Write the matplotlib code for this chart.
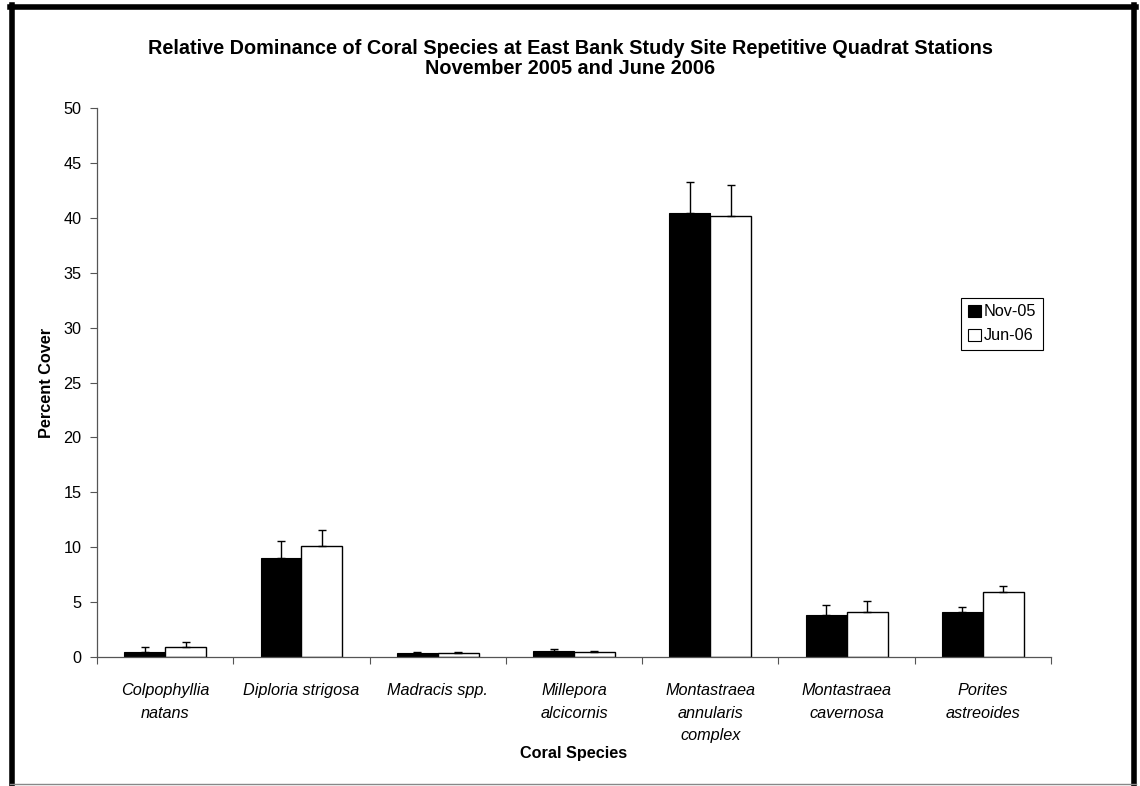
import matplotlib
matplotlib.use("Agg")
import matplotlib.pyplot as plt
import numpy as np
from matplotlib.patches import Patch
from matplotlib.lines import Line2D

plt.rcParams['font.family'] = ['Liberation Sans', 'DejaVu Sans']

species = ["Colpophyllia\nnatans", "Diploria strigosa", "Madracis spp.",
           "Millepora\nalcicornis", "Montastraea\nannularis\ncomplex",
           "Montastraea\ncavernosa", "Porites\nastreoides"]
nov05 = [0.5, 9.0, 0.4, 0.6, 40.4, 3.8, 4.1]
nov05_err = [0.4, 1.6, 0.1, 0.15, 2.9, 0.9, 0.5]
jun06 = [0.9, 10.1, 0.4, 0.5, 40.2, 4.1, 5.9]
jun06_err = [0.5, 1.5, 0.1, 0.1, 2.8, 1.0, 0.6]
series_labels = ["Nov-05", "Jun-06"]

FS = 11.7

fig = plt.figure(figsize=(11.4, 7.86), dpi=100)
ax = fig.add_axes([0.0851, 0.164, 0.8369, 0.6986])

x = np.arange(len(species))
w = 0.3
ax.bar(x - w / 2, nov05, w, color="black", edgecolor="black", linewidth=0.8, zorder=2)
ax.bar(x + w / 2, jun06, w, color="white", edgecolor="black", linewidth=1.0, zorder=2)
ax.errorbar(x - w / 2, nov05, yerr=[np.zeros(len(nov05)), nov05_err], fmt="none",
            ecolor="black", elinewidth=1.0, capsize=3, capthick=1.0, zorder=3)
ax.errorbar(x + w / 2, jun06, yerr=[np.zeros(len(jun06)), jun06_err], fmt="none",
            ecolor="black", elinewidth=1.0, capsize=3, capthick=1.0, zorder=3)

ax.set_xlim(-0.5, len(species) - 0.5)
ax.set_ylim(0, 50)
ax.set_yticks(np.arange(0, 51, 5))
ax.tick_params(axis="y", labelsize=FS, length=5, width=0.8, color="#555555", direction="out", pad=6)

# category labels sit between boundary ticks
ax.set_xticks(np.arange(-0.5, len(species), 1.0))
ax.set_xticklabels([])
ax.set_xticks(x, minor=True)
ax.set_xticklabels(species, minor=True, fontstyle="italic", fontsize=FS, linespacing=1.62)
ax.tick_params(axis="x", which="major", length=5, width=0.8, color="#555555", direction="out")
ax.tick_params(axis="x", which="minor", length=0, pad=19)
for lbl in ax.get_xticklabels(minor=True):
    lbl.set_verticalalignment("top")

for s in ["top", "right"]:
    ax.spines[s].set_visible(False)
for s in ["left", "bottom"]:
    ax.spines[s].set_color("#555555")
    ax.spines[s].set_linewidth(0.9)

ax.set_ylabel("Percent Cover", fontsize=FS, fontweight="bold", labelpad=7)
ax.set_xlabel("Coral Species", fontsize=FS, fontweight="bold", labelpad=2)

fig.text(0.5, 1 - 48 / 786, "Relative Dominance of Coral Species at East Bank Study Site Repetitive Quadrat Stations",
         ha="center", va="center", fontsize=14.3, fontweight="bold")
fig.text(0.5, 1 - 69 / 786, "November 2005 and June 2006",
         ha="center", va="center", fontsize=14.3, fontweight="bold")

handles = [Patch(facecolor="black", edgecolor="black", linewidth=0.8),
           Patch(facecolor="white", edgecolor="black", linewidth=0.8)]
leg = fig.legend(handles, series_labels, loc="upper left",
                 bbox_to_anchor=(961 / 1140, 1 - 298 / 786), fontsize=FS,
                 handlelength=0.8, handleheight=0.8, handletextpad=0.2,
                 borderpad=0.4, labelspacing=0.55, borderaxespad=0,
                 fancybox=False, framealpha=1)
leg.get_frame().set_edgecolor("black")
leg.get_frame().set_linewidth(0.8)

# outer frame
def fline(xs, ys, color, lw):
    fig.add_artist(Line2D(xs, ys, transform=fig.transFigure, color=color, linewidth=lw))

fline([10 / 1140, 1136 / 1140], [1 - 7 / 786, 1 - 7 / 786], "black", 4)
fline([12 / 1140, 12 / 1140], [1 - 5 / 786, 0], "black", 4)
fline([1134 / 1140, 1134 / 1140], [1 - 5 / 786, 0], "black", 4)
fline([10 / 1140, 1136 / 1140], [1 - 784 / 786, 1 - 784 / 786], "#888888", 1)

fig.savefig("out.png", dpi=100)
